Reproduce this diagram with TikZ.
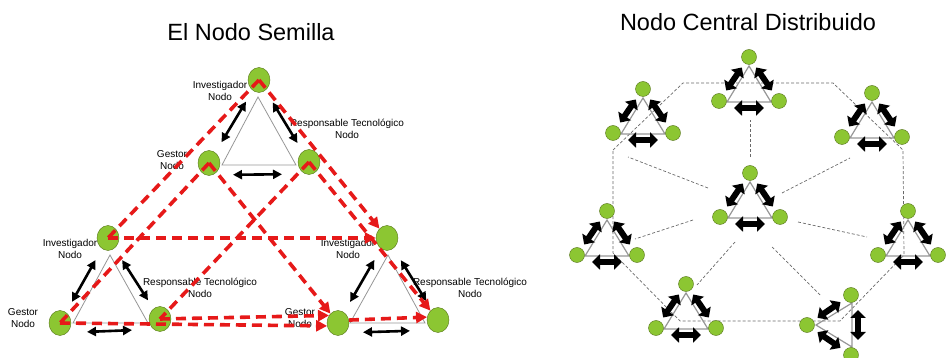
\documentclass[tikz,border=0pt]{standalone}
\usepackage{fontspec}
\setmainfont{Liberation Sans}
\usepackage{xcolor}
\definecolor{sgreen}{RGB}{140,198,50}
\definecolor{dgreen}{RGB}{85,115,25}
\definecolor{dred}{RGB}{230,25,25}
\definecolor{tgray}{RGB}{150,150,150}
\definecolor{rgray}{RGB}{105,105,105}
\usepackage{tikz}
\usetikzlibrary{arrows.meta,shapes.geometric,positioning,calc}

\tikzset{
  trio/.pic={
    \draw[tside] (0,-24) -- (-22,12) -- (22,12) -- cycle;
    \node[gdot] (-t) at (0,-33) {};
    \node[gdot] (-l) at (-30,11) {};
    \node[gdot] (-r) at (30,11) {};
    \draw[blk] (-t) -- (-l);
    \draw[blk] (-t) -- (-r);
    \draw[blk,shorten <=15pt,shorten >=15pt] ($(-l)!7pt!-90:(-r)$) -- ($(-r)!7pt!90:(-l)$);
  }
}

\begin{document}
\begin{tikzpicture}[
  x=1pt,y=-1pt,
  ttl/.style={font=\fontsize{23.5}{28}\selectfont,inner sep=0},
  lbl/.style={font=\fontsize{10}{12}\selectfont,align=center,inner sep=0},
  seed/.style={ellipse,draw=dgreen,fill=sgreen,minimum width=22pt,minimum height=25pt,inner sep=0},
  gdot/.style={circle,draw=dgreen,fill=sgreen,minimum size=15pt,inner sep=0},
  tri/.style={draw=tgray,line width=0.8pt},
  tside/.style={draw=tgray,line width=1.2pt},
  barrow/.style={{Triangle[length=9pt,width=9pt]}-{Triangle[length=9pt,width=9pt]},line width=2.6pt},
  blk/.style={{Triangle[length=8pt,width=15pt]}-{Triangle[length=8pt,width=15pt]},line width=6pt,shorten <=5pt,shorten >=5pt},
  rlink/.style={dred,line width=3.6pt,dash pattern=on 10pt off 6pt},
  rarrow/.style={rlink,-{Triangle[length=11pt,width=11pt]}},
  ring/.style={rgray,line width=0.7pt,dash pattern=on 3pt off 2pt}
]
  \useasboundingbox (0,0) rectangle (946,358);

  % === Titles ===
  \node[ttl] (semilla) at (251,32) {El Nodo Semilla};
  \node[ttl] (central) at (748,22) {Nodo Central Distribuido};

  % === Seed node: three triangles ===
  \draw[tri] (258,97) -- (222,165) -- (296,165) -- cycle;
  \draw[tri] (110,255) -- (73,323) -- (148,323) -- cycle;
  \draw[tri] (388,255) -- (350,323) -- (425,323) -- cycle;

  \node[lbl] (tIl) at (220,91) {Investigador\\Nodo};
  \node[lbl] (tRl) at (347,129) {Responsable Tecnológico\\Nodo};
  \node[lbl] (tGl) at (172,160) {Gestor\\Nodo};
  \node[lbl] (lIl) at (70,249) {Investigador\\Nodo};
  \node[lbl] (lRl) at (200,288) {Responsable Tecnológico\\Nodo};
  \node[lbl] (lGl) at (23,318) {Gestor\\Nodo};
  \node[lbl] (rIl) at (348,249) {Investigador\\Nodo};
  \node[lbl] (rRl) at (470,288) {Responsable Tecnológico\\Nodo};
  \node[lbl] (rGl) at (300,318) {Gestor\\Nodo};

  \node[seed] (tI) at (259,80) {};
  \node[seed] (tG) at (209,163) {};
  \node[seed] (tR) at (309,162) {};
  \node[seed] (lI) at (108,238) {};
  \node[seed] (lG) at (60,323) {};
  \node[seed] (lR) at (160,319) {};
  \node[seed] (rI) at (387,238) {};
  \node[seed] (rG) at (338,323) {};
  \node[seed] (rR) at (438,320) {};

  % roles inside each triangle
  \draw[barrow,shorten <=13pt,shorten >=12pt] (tI) -- (tG);
  \draw[barrow,shorten <=14pt,shorten >=10pt] (tI) -- (tR);
  \draw[barrow,shorten <=24pt,shorten >=27pt] ([yshift=-12pt]tG.center) -- ([yshift=-12pt]tR.center);
  \draw[barrow,shorten <=13pt,shorten >=12pt] (lI) -- (lG);
  \draw[barrow,shorten <=14pt,shorten >=10pt] (lI) -- (lR);
  \draw[barrow,shorten <=27pt,shorten >=28pt] ([yshift=-10pt]lG.center) -- ([yshift=-10pt]lR.center);
  \draw[barrow,shorten <=13pt,shorten >=12pt] (rI) -- (rG);
  \draw[barrow,shorten <=14pt,shorten >=10pt] (rI) -- (rR);
  \draw[barrow,shorten <=25pt,shorten >=28pt] ([yshift=-10pt]rG.center) -- ([yshift=-10pt]rR.center);

  % links between the triangles
  \draw[rlink] (tI.center) -- (lI.center);
  \draw[rlink] (tG.center) -- (lG.center);
  \draw[rlink] (tR.center) -- (lR.center);
  \draw[rarrow] (tI.center) -- (rI);
  \draw[rarrow] (tR.center) -- (rR);
  \draw[rarrow] (tG.center) -- (rG);
  \draw[rarrow] (lI.center) -- (rI);
  \draw[rarrow] (lR.center) -- (rG.140);
  \draw[rarrow] (lG.center) -- (rG.195);
  \draw[rarrow] (rG.15) -- (rR.165);

  % === Distributed central node ===
  \coordinate (o1) at (613,150);
  \coordinate (o2) at (683,83);
  \coordinate (o3) at (833,83);
  \coordinate (o4) at (903,150);
  \coordinate (o5) at (904,255);
  \coordinate (o6) at (840,321);
  \coordinate (o7) at (680,321);
  \coordinate (o8) at (613,253);
  \draw[ring] (o1) -- (o2) -- (o3) -- (o4) -- (o5) -- (o6) -- (o7) -- (o8) -- cycle;

  \coordinate (dA) at (708,188);  \coordinate (sA) at (628,157);
  \coordinate (dB) at (750,157);  \coordinate (sB) at (750,120);
  \coordinate (dC) at (782,193);  \coordinate (sC) at (850,158);
  \coordinate (dE) at (693,220);  \coordinate (sE) at (635,239);
  \coordinate (dF) at (798,222);  \coordinate (sF) at (867,237);
  \coordinate (dG) at (735,242);  \coordinate (sG) at (697,285);
  \coordinate (dH) at (772,247);  \coordinate (sH) at (820,295);
  \foreach \k in {A,B,C,E,F,G,H}
    \draw[ring] (d\k) -- (s\k);

  \pic (A) at (643,122) {trio};
  \pic (B) at (749,90) {trio};
  \pic (C) at (872,126) {trio};
  \pic (D) at (750,206) {trio};
  \pic (E) at (607,244) {trio};
  \pic (F) at (908,244) {trio};
  \pic (G) at (686,317) {trio};
  \pic[rotate=90] (H) at (840,325) {trio};
\end{tikzpicture}
\end{document}
